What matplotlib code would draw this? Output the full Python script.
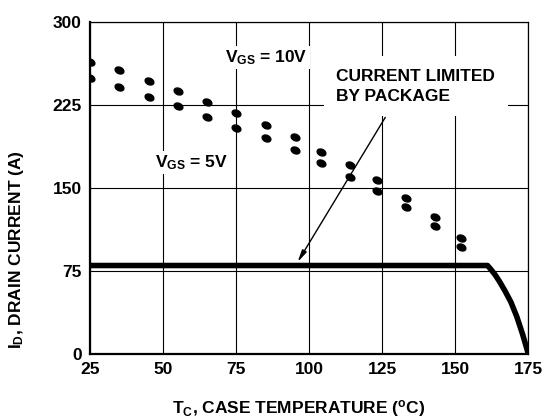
import numpy as np
import matplotlib
matplotlib.use("Agg")
import matplotlib.pyplot as plt
from matplotlib.path import Path
from matplotlib.transforms import Affine2D

# VGS = 10V curve (dotted)
t_10v = [25, 35, 45, 55, 65, 75, 85, 95, 104, 114, 123, 133, 143, 152]
i_10v = [264, 257, 247, 238, 228, 218, 207, 196, 183, 171, 157, 141, 124, 105]

# VGS = 5V curve
t_5v = [25, 35, 45, 55, 65, 75, 85, 95, 104, 114, 123, 133, 143, 152]
i_5v = [249, 241, 232, 224, 214, 204, 195, 184, 173, 160, 147, 133, 116, 97]

# package limit
t_pkg = [25, 161, 162, 163.5, 165, 167, 169, 171, 173, 175]
i_pkg = [80, 80, 77, 72, 66, 57, 47, 34, 18, 0]

x_ticks = [25, 50, 75, 100, 125, 150, 175]
y_ticks = [0, 75, 150, 225, 300]

plt.rcParams["font.family"] = ["Liberation Sans", "DejaVu Sans"]
plt.rcParams["font.weight"] = "bold"
plt.rcParams["mathtext.fontset"] = "custom"
plt.rcParams["mathtext.rm"] = "Liberation Sans:bold"
plt.rcParams["mathtext.it"] = "Liberation Sans:bold"
plt.rcParams["mathtext.bf"] = "Liberation Sans:bold"

fs = 12.5

# slanted oval dot like the scanned datasheet dashes
dot = Affine2D().scale(1.0, 0.7).rotate_deg(-25).transform_path(Path.unit_circle())

fig = plt.figure(figsize=(5.47, 4.2), dpi=100)
ax = fig.add_axes([0.165, 0.157, 0.801, 0.7906])

ax.set_xlim(25, 175)
ax.set_ylim(0, 300)
ax.set_xticks(x_ticks)
ax.set_yticks(y_ticks)
ax.tick_params(length=0, labelsize=fs, pad=6)
for lab in ax.get_xticklabels() + ax.get_yticklabels():
    lab.set_fontweight("bold")
ax.grid(True, color="black", linewidth=0.8)
ax.set_axisbelow(True)
for side, sp in ax.spines.items():
    sp.set_linewidth(1.6 if side in ("left", "bottom") else 0.9)

ax.plot(t_10v, i_10v, linestyle="none", marker=dot, markersize=6.5, color="black")
ax.plot(t_5v, i_5v, linestyle="none", marker=dot, markersize=6.5, color="black")
ax.plot(t_pkg, i_pkg, color="black", linewidth=4, solid_capstyle="butt", solid_joinstyle="round")

box = dict(facecolor="white", edgecolor="none", pad=1.5)
ax.text(71.3, 268, r"V$_{\mathrm{GS}}$ = 10V", fontsize=fs, fontweight="bold",
        ha="left", va="center", bbox=box)
ax.text(47.3, 173, r"V$_{\mathrm{GS}}$ = 5V", fontsize=fs, fontweight="bold",
        ha="left", va="center", bbox=box)
ax.text(109.2, 242, "CURRENT LIMITED\nBY PACKAGE", fontsize=fs, fontweight="bold",
        ha="left", va="center", linespacing=1.45,
        bbox=dict(facecolor="white", edgecolor="none", pad=9))
ax.annotate("", xy=(95.5, 81), xytext=(126.5, 216),
            arrowprops=dict(arrowstyle="-|>,head_length=0.7,head_width=0.15",
                            color="black", lw=1))

fig.text(0.031, 0.405, r"I$_{\mathrm{D}}$, DRAIN CURRENT (A)", rotation=90,
         fontsize=fs, fontweight="bold", ha="center", va="center")
fig.text(0.545, 0.028, r"T$_{\mathrm{C}}$, CASE TEMPERATURE ($^{\mathrm{o}}$C)",
         fontsize=fs, fontweight="bold", ha="center", va="center")

fig.savefig("out.png", dpi=100)
